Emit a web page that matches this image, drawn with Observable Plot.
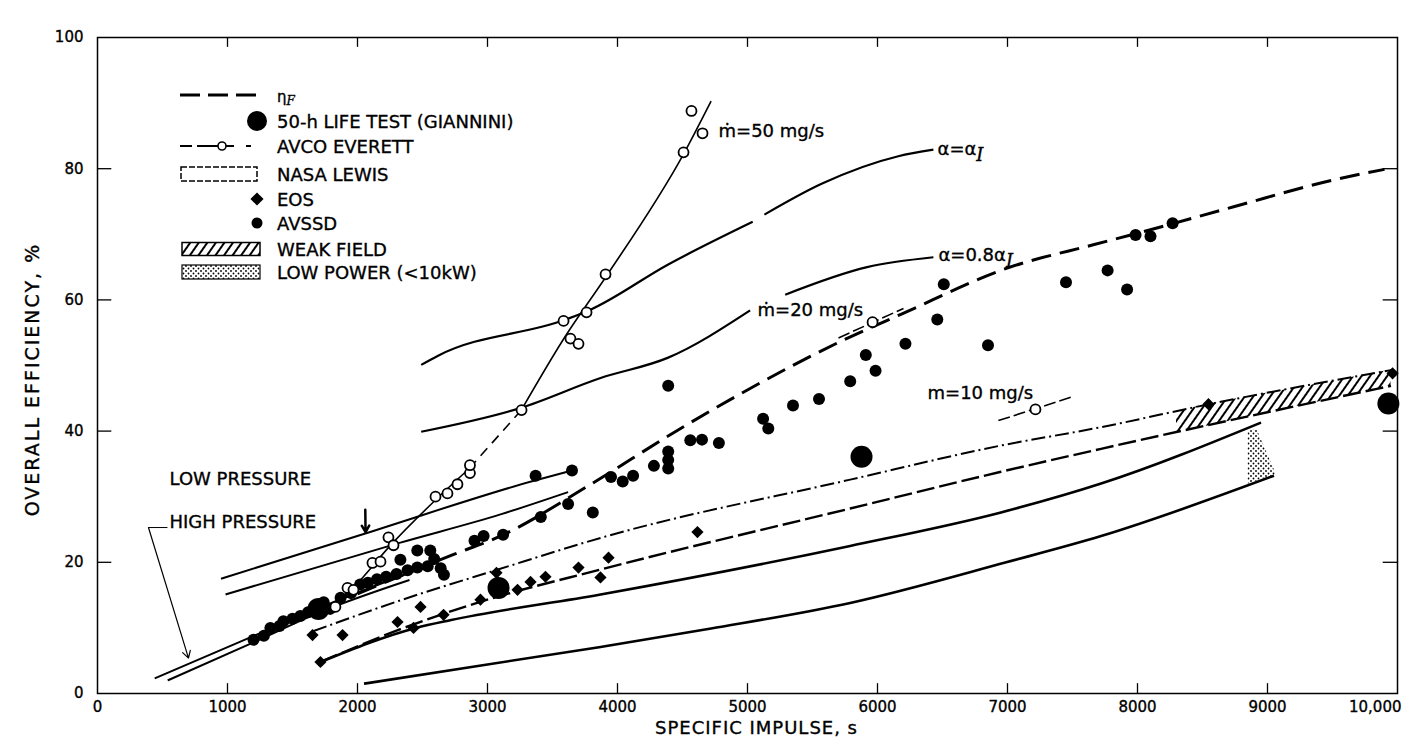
<!DOCTYPE html>
<html><head><meta charset="utf-8">
<script src="https://cdn.jsdelivr.net/npm/d3@7"></script>
<script src="https://cdn.jsdelivr.net/npm/@observablehq/plot@0.6"></script>
<style>
body{margin:0;background:#fff;}
#wrap{position:relative;width:1402px;height:749px;font-family:"DejaVu Sans",sans-serif;}
#wrap svg text{stroke:#000;stroke-width:0.35px;}
</style></head><body><div id="wrap"></div>
<script>
// ---------- axis ticks ----------
const xTicks = [0,1000,2000,3000,4000,5000,6000,7000,8000,9000,10000];
const xTickLabels = ["0","1000","2000","3000","4000","5000","6000","7000","8000","9000","10,000"];
const yTicks = [0,20,40,60,80,100];

// ---------- curves [specific impulse s, efficiency %] ----------
const etaF = [[2000,15.2],[2740,21.2],[3100,24.0],[3770,31.6],[4460,40.1],[5020,46.5],[5740,53.9],[6180,57.8],[7020,65.0],[7660,68.4],[7970,70.0],[8740,74.2],[9510,78.3],[9900,79.9]];
const alphaIa = [[2490,50.1],[2620,51.5],[3600,57.0],[3780,58.4],[4390,65.4],[5040,71.9]];
const alphaIb = [[5130,73.0],[5570,77.7],[6160,81.9],[6430,82.9]];
const alpha08a = [[2490,39.9],[3250,43.5],[3870,48.1],[4390,51.2],[5020,58.4]];
const alpha08b = [[5290,60.8],[5920,65.0],[6430,66.5]];
const avco50Line = [[1780,12.5],[2000,16.8],[2250,22.5],[2600,29.5],[2860,34.3],[3260,43.2],[3600,54.5],[3910,63.5],[4510,82.3],[4720,90.3]];
const avco20Line = [[5700,54.2],[6200,58.7]];
const avco10Line = [[6930,41.6],[7510,45.3]];
const lowPress1 = [[950,17.5],[2060,24.4],[3350,32.4],[3650,34.0]];
const lowPress2 = [[985,15.1],[2330,23.0],[3100,27.3],[3620,30.7]];
const highPress1 = [[440,2.3],[1180,8.6],[1700,13.0],[2600,19.9]];
const highPress2 = [[540,2.0],[1200,7.8],[1700,12.3],[2400,17.3]];
const nasa1 = [[1660,9.5],[2330,14.2],[3080,18.9],[3920,24.0],[5790,32.6],[6950,37.8],[7720,40.6],[8550,44.1],[9950,49.3]];
const nasa2 = [[1715,4.8],[2330,9.8],[2950,14.0],[3870,18.9],[5790,28.2],[6950,33.8],[7720,37.3],[9950,46.9]];
const nasa3 = [[1715,4.8],[2450,10.0],[2720,11.2],[3870,15.1],[5790,22.5],[6950,27.6],[7720,32.0],[8950,41.3]];
const nasa4 = [[2050,1.5],[3870,7.1],[4720,9.9],[5790,13.8],[6990,20.0],[7720,24.0],[9050,33.2]];

// ---------- shaded bands ----------
const weakX = [8300,8550,9000,9500,9950];
const weakTop = [43.0,44.1,45.8,47.6,49.3];
const weakBottom = [39.7,40.8,42.8,44.9,46.9];
const lowPowX = [8850,8920,9070];
const lowPowTop = [40.0,40.2,33.3];
const lowPowBottom = [31.9,32.4,33.3];

// ---------- points ----------
const avcoCircles = [[1830,13.2],[1923,16.1],[1969,15.8],[2115,19.9],[2177,20.1],[2238,23.8],[2277,22.6],[2600,30.0],[2692,30.5],[2769,31.9],[2865,33.6],[2865,34.8],[3262,43.2],[3585,56.8],[3638,54.1],[3700,53.3],[3762,58.1],[3908,63.9],[4508,82.5],[4654,85.4],[4569,88.8],[5962,56.6],[7215,43.3]];
const avssd = [[1200,8.2],[1280,8.8],[1330,10.0],[1400,10.3],[1430,11.0],[1500,11.4],[1560,11.8],[1620,12.4],[1740,13.9],[1790,12.9],[1870,14.6],[1950,15.3],[2020,16.6],[2080,16.9],[2150,17.4],[2220,17.8],[2300,18.2],[2385,18.8],[2460,19.2],[2540,19.4],[2330,20.4],[2460,21.8],[2560,21.8],[2590,20.5],[2640,19.1],[2665,18.1],[2900,23.3],[2970,24.0],[3120,24.2],[3370,33.2],[3650,34.0],[3620,28.9],[3810,27.6],[3410,26.9],[3950,33.0],[4040,32.3],[4120,33.2],[4280,34.7],[4390,34.3],[4390,35.6],[4390,36.9],[4390,46.9],[4560,38.6],[4650,38.7],[4780,38.2],[5120,41.9],[5160,40.4],[5350,43.9],[5550,44.9],[5790,47.6],[5910,51.6],[5985,49.2],[6215,53.3],[6460,57.0],[6510,62.4],[6850,53.1],[7450,62.7],[7770,64.5],[7920,61.6],[7985,69.9],[8100,69.7],[8270,71.7]];
const eos = [[1715,4.8],[1654,8.9],[1885,8.9],[2308,10.9],[2431,10.0],[2485,13.2],[2662,12.0],[2946,14.3],[3069,18.4],[3231,15.8],[3331,17.0],[3446,17.8],[3700,19.2],[3869,17.7],[3931,20.7],[4615,24.6],[8546,44.1],[9962,48.8]];
const lifeTest = [[1700,12.9],[3085,16.1],[5877,36.1],[9930,44.2]];

// ---------- annotations ----------
const curveLabels = [
  {x:4777, y:85.7, t:"ṁ=50 mg/s"},
  {x:6462, y:82.9, t:"α=α_I"},
  {x:6469, y:66.8, t:"α=0.8α_I"},
  {x:5077, y:58.5, t:"ṁ=20 mg/s"},
  {x:6385, y:45.8, t:"m=10 mg/s"},
  {x:554, y:32.7, t:"LOW PRESSURE"},
  {x:554, y:26.1, t:"HIGH PRESSURE"}
];
const highBracket = [[392,25.3],[538,25.3]];
const highArrow = [[392,25.3],[700,5.4]];
const lowMarker = [[2060,28.0],[2062,24.6]];
const xTitle = "SPECIFIC IMPULSE, s";
const yTitle = "OVERALL EFFICIENCY, %";

const legendLabels = ["η_F","50-h LIFE TEST (GIANNINI)","AVCO EVERETT","NASA LEWIS","EOS","AVSSD","WEAK FIELD","LOW POWER (<10kW)"];

// ---------- helpers ----------
const X = d => d[0], Y = d => d[1];
const band = (xs, lo, hi) => xs.map((x,i) => ({x, y1: lo[i], y2: hi[i]}));
const ln = (data, o = {}) => Plot.line(data, {x: X, y: Y, curve: "monotone-x", stroke: "black", strokeWidth: 2.4, strokeLinecap: "butt", ...o});

// pattern defs shared by plot and legend
const defs = d3.select("#wrap").append("svg").attr("width",0).attr("height",0).style("position","absolute");
const dd = defs.append("defs");
const hp = dd.append("pattern").attr("id","hatch").attr("patternUnits","userSpaceOnUse").attr("width",7).attr("height",7).attr("patternTransform","rotate(35)");
hp.append("line").attr("x1",1).attr("y1",0).attr("x2",1).attr("y2",7).attr("stroke","black").attr("stroke-width",2);
const sp = dd.append("pattern").attr("id","stipple").attr("patternUnits","userSpaceOnUse").attr("width",5).attr("height",5);
sp.append("circle").attr("cx",1).attr("cy",1).attr("r",0.9).attr("fill","black");
sp.append("circle").attr("cx",3.5).attr("cy",3.5).attr("r",0.9).attr("fill","black");

const plot = Plot.plot({
  width: 1402, height: 749,
  marginLeft: 97, marginRight: 5, marginTop: 37, marginBottom: 56,
  x: {domain: [0, 10000]},
  y: {domain: [0, 100]},
  style: {fontFamily: "DejaVu Sans", fontSize: "15px", color: "#000", background: "#fff"},
  marks: [
    Plot.areaY(band(weakX, weakBottom, weakTop), {x: "x", y1: "y1", y2: "y2", fill: "url(#hatch)", curve: "monotone-x"}),
    Plot.areaY(band(lowPowX, lowPowBottom, lowPowTop), {x: "x", y1: "y1", y2: "y2", fill: "url(#stipple)"}),
    ln(nasa1, {strokeWidth: 2, strokeDasharray: "14,4,2,4"}),
    ln(nasa2, {strokeWidth: 2.4, strokeDasharray: "18,5"}),
    ln(nasa3, {strokeWidth: 2.6}),
    ln(nasa4, {strokeWidth: 2.6}),
    ln(lowPress1, {strokeWidth: 2}),
    ln(lowPress2, {strokeWidth: 2}),
    ln(highPress1, {strokeWidth: 2}),
    ln(highPress2, {strokeWidth: 2}),
    ln(etaF, {strokeWidth: 3, strokeDasharray: "20,9"}),
    ln(alphaIa, {strokeWidth: 2.2}),
    ln(alphaIb, {strokeWidth: 2.2}),
    ln(alpha08a, {strokeWidth: 2.2}),
    ln(alpha08b, {strokeWidth: 2.2}),
    ln(avco50Line.slice(0,5), {strokeWidth: 1.6}),
    ln(avco50Line.slice(4,6), {strokeWidth: 1.6, strokeDasharray: "10,7"}),
    ln(avco50Line.slice(5), {strokeWidth: 1.6}),
    ln(avco20Line, {strokeWidth: 1.6, strokeDasharray: "12,4"}),
    ln(avco10Line, {strokeWidth: 1.6, strokeDasharray: "12,4"}),
    ln(highBracket, {strokeWidth: 1, curve: "linear"}),
    Plot.arrow([highArrow], {x1: d => d[0][0], y1: d => d[0][1], x2: d => d[1][0], y2: d => d[1][1], strokeWidth: 1.2, headLength: 10, stroke: "black"}),
    Plot.arrow([lowMarker], {x1: d => d[0][0], y1: d => d[0][1], x2: d => d[1][0], y2: d => d[1][1], strokeWidth: 2.5, headLength: 8, stroke: "black"}),
    Plot.dot(avssd, {x: X, y: Y, r: 6, fill: "black"}),
    Plot.dot(eos, {x: X, y: Y, r: 5.5, symbol: "diamond2", fill: "black"}),
    Plot.dot(lifeTest, {x: X, y: Y, r: 11, fill: "black"}),
    Plot.dot(avcoCircles, {x: X, y: Y, r: 5, fill: "white", stroke: "black", strokeWidth: 1.8}),
    Plot.text(curveLabels, {x: "x", y: "y", text: "t", textAnchor: "start", fontSize: 18}),
    // inner ticks
    Plot.ruleX(xTicks.slice(1, -1), {x: d => d, y1: 0, y2: 1.5, strokeWidth: 1.3}),
    Plot.ruleX(xTicks.slice(1, -1), {x: d => d, y1: 98.5, y2: 100, strokeWidth: 1.3}),
    Plot.ruleY(yTicks.slice(1, -1), {y: d => d, x1: 0, x2: 110, strokeWidth: 1.3}),
    Plot.ruleY(yTicks.slice(1, -1), {y: d => d, x1: 9890, x2: 10000, strokeWidth: 1.3}),
    Plot.frame({strokeWidth: 1.5}),
    Plot.axisX(xTicks.slice(0, -1), {tickSize: 0, tickPadding: 8, fontSize: 15, label: null, tickFormat: d => xTickLabels[xTicks.indexOf(d)]}),
    Plot.text(xTicks.slice(-1), {x: d => d, y: 0, text: d => xTickLabels[xTicks.indexOf(d)], textAnchor: "end", dy: 14, dx: 4, fontSize: 15}),
    Plot.axisY(yTicks, {tickSize: 0, tickPadding: 14, fontSize: 15, label: null}),
    Plot.text([xTitle], {frameAnchor: "bottom", text: d => d, dy: 40, dx: 9, fontSize: 18}),
    Plot.text([yTitle], {frameAnchor: "left", text: d => d, textAnchor: "middle", rotate: -90, dx: -65, dy: 14, fontSize: 19})
  ]
});
document.getElementById("wrap").appendChild(plot);

// letter spacing for the axis titles
d3.select(plot).selectAll("text").filter(function () { return this.textContent === xTitle; }).style("letter-spacing", "1px");
d3.select(plot).selectAll("text").filter(function () { return this.textContent === yTitle; }).style("letter-spacing", "2px");

// subscript handling: "a_B" -> a + lowered italic B
function subscriptify(sel, size, shift) {
  sel.each(function () {
    const t = this.textContent;
    const k = t.indexOf("_");
    if (k < 0) return;
    const el = d3.select(this);
    el.text(null);
    el.append("tspan").text(t.slice(0, k));
    el.append("tspan").attr("dy", shift).attr("font-size", size).attr("font-style", "italic").attr("font-family", "DejaVu Serif").text(t.slice(k + 1));
  });
}
subscriptify(d3.select(plot).selectAll("text"), 18, 6);

// ---------- legend (overlay) ----------
const L = d3.select("#wrap").append("svg").attr("width", 1402).attr("height", 749)
  .style("position", "absolute").style("left", "0px").style("top", "0px").style("pointer-events", "none");
const rowY = [95, 121, 146, 174, 199, 223, 249, 272];
const lg = L.append("g").attr("font-family", "DejaVu Sans").attr("font-size", 18).attr("fill", "black");
lg.selectAll("text").data(legendLabels).join("text")
  .attr("x", 277).attr("y", (d, i) => rowY[i] + 6.5).attr("font-size", (d, i) => i === 0 ? 15 : 18).text(d => d);
subscriptify(lg.selectAll("text"), 12, 3);
// symbols
lg.append("line").attr("x1", 180).attr("x2", 257).attr("y1", rowY[0]).attr("y2", rowY[0]).attr("stroke", "black").attr("stroke-width", 3).attr("stroke-dasharray", "20,8");
lg.append("circle").attr("cx", 257).attr("cy", rowY[1]).attr("r", 10);
lg.append("line").attr("x1", 180).attr("x2", 258).attr("y1", rowY[2]).attr("y2", rowY[2]).attr("stroke", "black").attr("stroke-width", 2).attr("stroke-dasharray", "12,5,22,5,10");
lg.append("circle").attr("cx", 222).attr("cy", rowY[2]).attr("r", 4).attr("fill", "white").attr("stroke", "black").attr("stroke-width", 1.6);
lg.append("rect").attr("x", 181).attr("y", rowY[3] - 7).attr("width", 76).attr("height", 14).attr("fill", "none").attr("stroke", "black").attr("stroke-width", 1.5).attr("stroke-dasharray", "6,2");
lg.append("path").attr("d", d3.symbol(d3.symbolDiamond2, 110)()).attr("transform", `translate(257,${rowY[4]})`);
lg.append("circle").attr("cx", 257).attr("cy", rowY[5]).attr("r", 5.5);
lg.append("rect").attr("x", 182).attr("y", rowY[6] - 6.5).attr("width", 78).attr("height", 13).attr("fill", "url(#hatch)").attr("stroke", "black").attr("stroke-width", 1.5);
lg.append("rect").attr("x", 182).attr("y", rowY[7] - 7).attr("width", 78).attr("height", 14).attr("fill", "url(#stipple)").attr("stroke", "black").attr("stroke-width", 1.2);
</script></body></html>
